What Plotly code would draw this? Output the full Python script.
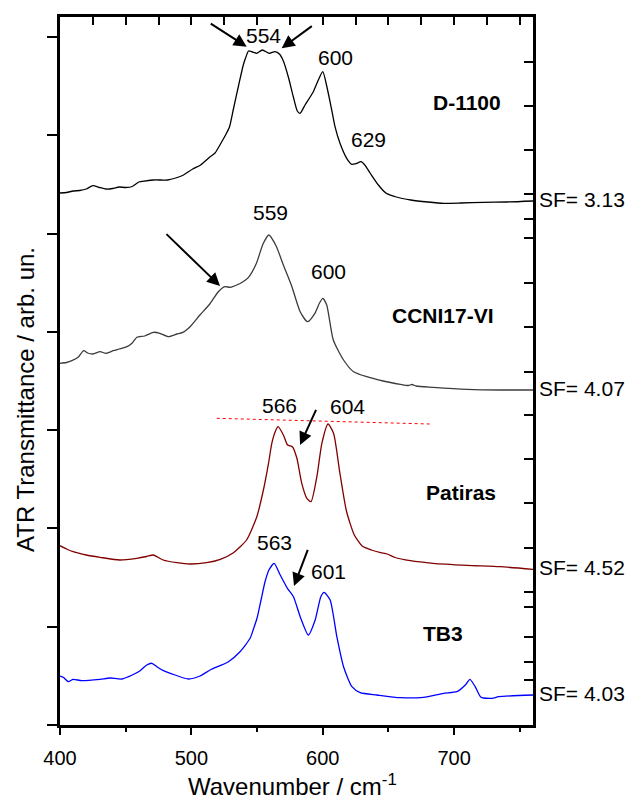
import plotly.graph_objects as go

# ---- spectra: wavenumber (cm^-1) and stacked ATR transmittance (arb. un.) ----
wn_d1100 = [400, 405, 410, 415, 420, 425, 430, 435, 440, 445, 450, 455, 460, 465, 471, 477, 482, 488, 494, 501,
            507, 514, 518, 523, 526, 529, 532, 536, 539.5, 541.5, 543.5, 546.5, 549.7, 554, 559.3, 563.6, 567, 570,
            574, 577.6, 580.6, 582.7, 586.5, 592.8, 596.6, 600, 603, 606.8, 609.3, 613.1, 618.2, 622, 625.5, 629,
            632, 636, 642.3, 648, 656, 667, 680, 692, 705, 722, 740, 760]
tr_d1100 = [532, 532.5, 534, 534.5, 536, 539.3, 537.5, 536, 536.5, 538, 537.5, 538.5, 543, 544, 545, 545, 545, 547,
            550, 556, 560, 568, 572, 583, 590, 598, 616, 640, 660, 668, 674, 673, 671.7, 675, 671.7, 673.3, 671,
            664, 647, 628, 614, 611.7, 620, 633.3, 645, 653.3, 639, 615, 598.3, 581.7, 566.7, 560.7, 561.5, 563.3,
            560, 552, 540, 532, 528, 525, 523, 521.7, 522, 522.7, 523, 524]

wn_ccni = [400, 405, 409, 414, 418, 421, 425, 430.5, 435, 440.5, 445, 451, 455, 458.5, 464.5, 471, 476, 482.5, 489,
           493, 499, 506.5, 514, 520.5, 525.5, 529.5, 534.5, 539, 543.5, 549.5, 554.5, 559, 564.5, 570, 576.5,
           582.8, 588.4, 594, 597.5, 600, 603, 608, 615.8, 623.4, 633.5, 646, 659, 665, 668, 671, 684, 710, 735, 760]
tr_ccni = [361.7, 362.5, 364.3, 368, 374.3, 372, 371, 373.3, 371.7, 374.3, 376, 378.3, 382, 387.7, 389, 392.7, 391.7,
           388.3, 391, 392.3, 398.3, 410, 421, 433.3, 438.3, 437.7, 440, 443, 447.7, 461.7, 481, 490, 479, 460,
           438.3, 413.3, 403.3, 411.7, 422, 426.7, 420, 385, 365, 353.3, 348.3, 344, 340.7, 339.5, 340.5, 339,
           337.7, 335.7, 335, 335]

wn_patiras = [400, 405, 410, 420, 430.5, 445.5, 458.5, 466, 471, 478.5, 489, 499, 511.5, 522, 532, 542, 549.8, 554.8,
              558.7, 561.2, 563.8, 566, 570, 573.2, 577, 580.3, 584, 587.9, 591, 595.5, 599.3, 604, 608.2, 613, 618,
              624, 630, 637, 644, 649, 655, 666.6, 684, 710, 735, 760]
tr_patiras = [179.3, 176, 173.3, 170, 167.7, 165, 166.7, 168.5, 170, 165, 162.3, 161, 162.3, 165.7, 172.3, 185, 208.3,
              235, 261.7, 281.7, 293.3, 298.3, 290, 280, 278, 266.7, 241.7, 226.7, 223.3, 248.3, 281.7, 301, 291.7,
              252, 214, 190, 179, 175, 172.3, 171, 167.5, 164.3, 161.7, 159.7, 158.3, 155.7]

wn_tb3 = [400, 402.5, 406.3, 410, 416.5, 430.5, 438, 447, 455, 461, 466, 470, 474, 478.7, 487.6, 497.7, 506.6, 514.2,
          528.2, 537, 544.7, 547, 550, 553, 556, 559, 563, 567.6, 573.1, 577.7, 582.8, 589, 594.2, 598.5, 601, 605.6,
          610.7, 615.8, 622.2, 628.5, 641.2, 659, 676.7, 692, 702, 708.5, 712, 716, 720.4, 728.8, 733.8, 760]
tr_tb3 = [49, 47.7, 43.3, 45.7, 44.3, 45.7, 47, 46, 50, 54.3, 60, 61.7, 58, 54.3, 50, 46, 49, 55, 63.3, 73.3, 86.7,
          95, 107, 125, 143, 155, 161.7, 150, 136.7, 128.3, 108.3, 90, 105, 128.3, 132.7, 125, 88.3, 58.3, 38.3,
          32.3, 30, 27.3, 27.7, 31.7, 33.3, 40, 45.7, 38.3, 27.7, 26.7, 28.3, 30]

samples = ["D-1100", "CCNI17-VI", "Patiras", "TB3"]
scale_factors = ["3.13", "4.07", "4.52", "4.03"]
colors = ["#000000", "#3c3c3c", "#800000", "#0000ff"]

# peak labels: (text, wavenumber, label height, horizontal nudge in px)
peak_labels = [("554", 554, 690, 1), ("600", 600, 667.7, 13), ("629", 629, 585.7, 8),
               ("559", 559, 513, 2), ("600", 600, 453.3, 6),
               ("566", 566, 320, 1), ("604", 604, 318.3, 19),
               ("563", 563, 182.3, 0), ("601", 601, 153.3, 4)]

# sample names: (text, x, y)
name_labels = [("D-1100", 709.5, 622.7), ("CCNI17-VI", 691.7, 410),
               ("Patiras", 705.2, 232.3), ("TB3", 691.5, 91.7)]

# arrows: (tip x, tip y, tail x, tail y)
arrows = [(542.1, 678.3, 513.6, 702.3), (568.7, 676.7, 592.8, 700),
          (521.8, 439, 479.9, 492.3), (582.7, 280, 595.4, 316.7),
          (578.1, 139, 589.0, 176.7)]

# reference line across the Patiras doublet
ref_x = [519.3, 681.3]
ref_y = [306.7, 301]

left_ticks = [0, 98.3, 196.6, 294.9, 393.2, 491.5, 589.8, 688.1]
right_ticks = [663, 619, 575, 531, 506, 487, 442, 398, 353, 310, 266, 222, 177, 133, 118, 88, 63, 45]

FONT = "Liberation Sans, Arial, sans-serif"
X_RANGE = [400, 760]
Y_RANGE = [0, 708]

fig = go.Figure()
series = [(wn_d1100, tr_d1100), (wn_ccni, tr_ccni), (wn_patiras, tr_patiras), (wn_tb3, tr_tb3)]
for (wx, ty), name, col in zip(series, samples, colors):
    fig.add_trace(go.Scatter(x=wx, y=ty, mode="lines", name=name,
                             line=dict(color=col, width=1.3, shape="spline", smoothing=0.6),
                             showlegend=False, hoverinfo="skip"))

fig.add_trace(go.Scatter(x=ref_x, y=ref_y, mode="lines", showlegend=False, hoverinfo="skip",
                         line=dict(color="#ff0000", width=1, dash="dot")))

# empty trace to register the mirrored top/right axes
fig.add_trace(go.Scatter(x=[None], y=[None], xaxis="x2", yaxis="y2", showlegend=False, hoverinfo="skip"))

ann = []
for txt, px, py, dx in peak_labels:
    ann.append(dict(x=px, y=py, xref="x", yref="y", text=txt, showarrow=False, xshift=dx,
                    font=dict(family=FONT, size=21, color="black")))
for txt, px, py in name_labels:
    ann.append(dict(x=px, y=py, xref="x", yref="y", text="<b>%s</b>" % txt, showarrow=False,
                    font=dict(family=FONT, size=21, color="black")))
for (wx, ty), sf in zip(series, scale_factors):
    ann.append(dict(x=1, y=ty[-1], xref="paper", yref="y", text="SF= %s" % sf, showarrow=False,
                    xanchor="left", xshift=4, yshift=2,
                    font=dict(family=FONT, size=21, color="black")))
for tx, ty, sx, sy in arrows:
    ann.append(dict(x=tx, y=ty, ax=sx, ay=sy, xref="x", yref="y", axref="x", ayref="y", text="",
                    showarrow=True, arrowhead=2, arrowsize=1.3, arrowwidth=2, arrowcolor="black"))

ann.append(dict(x=(292 - 60) / 473, y=(725 - 785) / 708, xref="paper", yref="paper",
                xanchor="center", yanchor="middle",
                text="Wavenumber / cm<sup>-1</sup>", showarrow=False,
                font=dict(family=FONT, size=24, color="black")))
ann.append(dict(x=(25 - 60) / 473, y=(725 - 400) / 708, xref="paper", yref="paper",
                xanchor="center", yanchor="middle",
                text="ATR Transmittance / arb. un.", showarrow=False, textangle=-90,
                font=dict(family=FONT, size=24, color="black")))

fig.update_layout(
    width=630, height=799,
    margin=dict(l=60, r=97, t=17, b=74),
    paper_bgcolor="white", plot_bgcolor="white",
    font=dict(family=FONT, color="black"),
    annotations=ann,
    xaxis=dict(range=X_RANGE, showgrid=False, zeroline=False, showline=True, linecolor="black",
               linewidth=2.5, ticks="outside", tickvals=[400, 500, 600, 700], ticklen=7, tickwidth=2,
               tickcolor="black", tickfont=dict(family=FONT, size=20, color="black"),
               ticklabelstandoff=6,
               minor=dict(tickvals=[450, 550, 650, 750], ticks="outside", ticklen=4, tickwidth=2,
                          tickcolor="black")),
    xaxis2=dict(range=X_RANGE, overlaying="x", side="top", anchor="y", showgrid=False, zeroline=False,
                showline=True, linecolor="black", linewidth=2.5, ticks="inside", tick0=400, dtick=25,
                ticklen=8, tickwidth=2, tickcolor="black", showticklabels=False),
    yaxis=dict(range=Y_RANGE, showgrid=False, zeroline=False, showline=True, linecolor="black",
               linewidth=2.5, ticks="outside", tickvals=left_ticks, ticklen=10, tickwidth=2,
               tickcolor="black", showticklabels=False),
    yaxis2=dict(range=Y_RANGE, overlaying="y", side="right", anchor="x", showgrid=False, zeroline=False,
                showline=True, linecolor="black", linewidth=2.5, ticks="inside", tickvals=right_ticks,
                ticklen=9, tickwidth=2, tickcolor="black", showticklabels=False),
)

fig.write_html("out.html")
